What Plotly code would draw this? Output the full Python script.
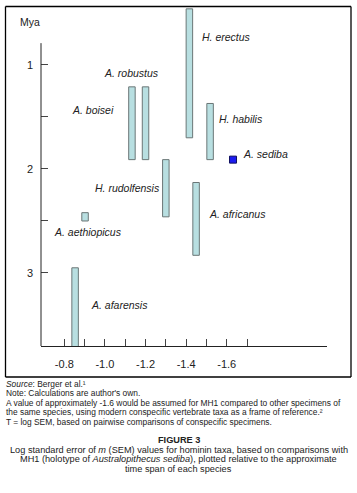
import plotly.graph_objects as go

# ---- data ----
species = ["A. afarensis", "A. aethiopicus", "A. boisei", "A. robustus",
           "H. rudolfensis", "H. erectus", "A. africanus", "H. habilis"]
log_sem = [-0.853, -0.902, -1.133, -1.200, -1.300, -1.416, -1.449, -1.518]
span_start = [2.95, 2.42, 1.21, 1.21, 1.91, 0.46, 2.13, 1.37]   # Mya (younger end)
span_end = [3.90, 2.50, 1.91, 1.91, 2.46, 1.70, 2.83, 1.91]      # Mya (older end)

sediba_name = "A. sediba"
sediba_sem = -1.631
sediba_mya = 1.91

x_tickvals = [-0.8, -0.9, -1.0, -1.1, -1.2, -1.3, -1.4, -1.5, -1.6, -1.7]
x_ticktext = ["-0.8", "", "-1.0", "", "-1.2", "", "-1.4", "", "-1.6", ""]
y_tickvals = [1, 1.5, 2, 2.5, 3]
y_ticktext = ["1", "", "2", "", "3"]

# label placement (left edge in log SEM, centre in Mya)
label_pos = {
    "H. erectus": (-1.468, 0.731),
    "A. robustus": (-0.986, 1.077),
    "A. boisei": (-0.828, 1.433),
    "H. habilis": (-1.552, 1.519),
    "A. sediba": (-1.668, 1.856),
    "H. rudolfensis": (-0.941, 2.183),
    "A. africanus": (-1.503, 2.433),
    "A. aethiopicus": (-0.739, 2.606),
    "A. afarensis": (-0.922, 3.308),
}

notes = [
    "<i>Source</i>: Berger et al.¹",
    "Note: Calculations are author's own.",
    "A value of approximately -1.6 would be assumed for MH1 compared to other specimens of",
    "the same species, using modern conspecific vertebrate taxa as a frame of reference.²",
    "T = log SEM, based on pairwise comparisons of conspecific specimens.",
]
caption = [
    "<b>FIGURE 3</b>",
    "Log standard error of <i>m</i> (SEM) values for hominin taxa, based on comparisons with",
    "MH1 (holotype of <i>Australopithecus sediba</i>), plotted relative to the approximate",
    "time span of each species",
]

W, H = 357, 493
FONT = "Liberation Sans, Arial, sans-serif"

fig = go.Figure()
fig.add_trace(go.Bar(
    x=log_sem,
    y=[e - s for s, e in zip(span_start, span_end)],
    base=span_start,
    width=0.032,
    marker=dict(color="#b8dfe1", line=dict(color="#6a7676", width=1)),
    hoverinfo="skip",
))
fig.add_trace(go.Scatter(
    x=[sediba_sem], y=[sediba_mya], mode="markers",
    marker=dict(symbol="square", size=7, color="#1c1cf0",
                line=dict(color="#101060", width=1)),
    hoverinfo="skip",
))

def py(px):
    return 1 - px / H

def pxx(px):
    return px / W

fig.update_layout(
    width=W, height=H,
    margin=dict(l=0, r=0, t=0, b=0),
    paper_bgcolor="white", plot_bgcolor="white",
    showlegend=False,
    font=dict(family=FONT, color="#222222"),
    xaxis=dict(
        domain=[41 / W, 327 / W],
        range=[-0.685, -2.094],
        tickvals=x_tickvals, ticktext=x_ticktext,
        ticks="inside", ticklen=7, tickcolor="#444444",
        showline=True, linecolor="#222222", linewidth=1,
        showgrid=False, zeroline=False,
        tickfont=dict(size=11, family=FONT, color="#222222"),
        ticklabelstandoff=8,
    ),
    yaxis=dict(
        domain=[py(346), py(8)],
        range=[3.702, 0.452],
        tickvals=y_tickvals, ticktext=y_ticktext,
        ticks="inside", ticklen=7, tickcolor="#444444",
        showline=False, showgrid=False, zeroline=False,
        tickfont=dict(size=11, family=FONT, color="#222222"),
        ticklabelstandoff=7,
    ),
)

# partial y-axis line
fig.add_shape(type="line", xref="x domain", yref="y", x0=0, x1=0,
              y0=0.79, y1=3.702, line=dict(color="#222222", width=1))
# outer frame (four edges)
L, R, T, B = 5.5, 351, 6.5, 377
frame_line = dict(color="black", width=1.3)
for (xa, ya, xb, yb) in [(L, T, R, T), (L, B, R, B), (L, T, L, B), (R, T, R, B)]:
    fig.add_shape(type="line", xref="paper", yref="paper",
                  x0=pxx(xa), y0=py(ya), x1=pxx(xb), y1=py(yb), line=frame_line)

ann = []
for name, (lx, ly) in label_pos.items():
    ann.append(dict(x=lx, y=ly, xref="x", yref="y", text=f"<i>{name}</i>",
                    showarrow=False, xanchor="left", yanchor="middle",
                    font=dict(size=10.5, family=FONT, color="#222222")))
ann.append(dict(x=30 / W, y=py(22), xref="paper", yref="paper", text="Mya",
                showarrow=False, xanchor="center", yanchor="middle",
                font=dict(size=10.5, family=FONT, color="#222222")))

note_y = [383.5, 393, 402.5, 412, 421.5]
for t, yy in zip(notes, note_y):
    ann.append(dict(x=4 / W, y=py(yy), xref="paper", yref="paper", text=t,
                    showarrow=False, xanchor="left", yanchor="middle",
                    font=dict(size=8.4, family=FONT, color="#222222")))
cap_y = [440, 449.5, 459, 468.5]
for t, yy in zip(caption, cap_y):
    ann.append(dict(x=178.5 / W, y=py(yy), xref="paper", yref="paper", text=t,
                    showarrow=False, xanchor="center", yanchor="middle",
                    font=dict(size=9.2, family=FONT, color="#222222")))
fig.update_layout(annotations=ann)

fig.write_html("out.html", config={"displayModeBar": False, "staticPlot": True},
               post_script="document.body.style.margin='0';document.body.style.overflow='hidden';")
